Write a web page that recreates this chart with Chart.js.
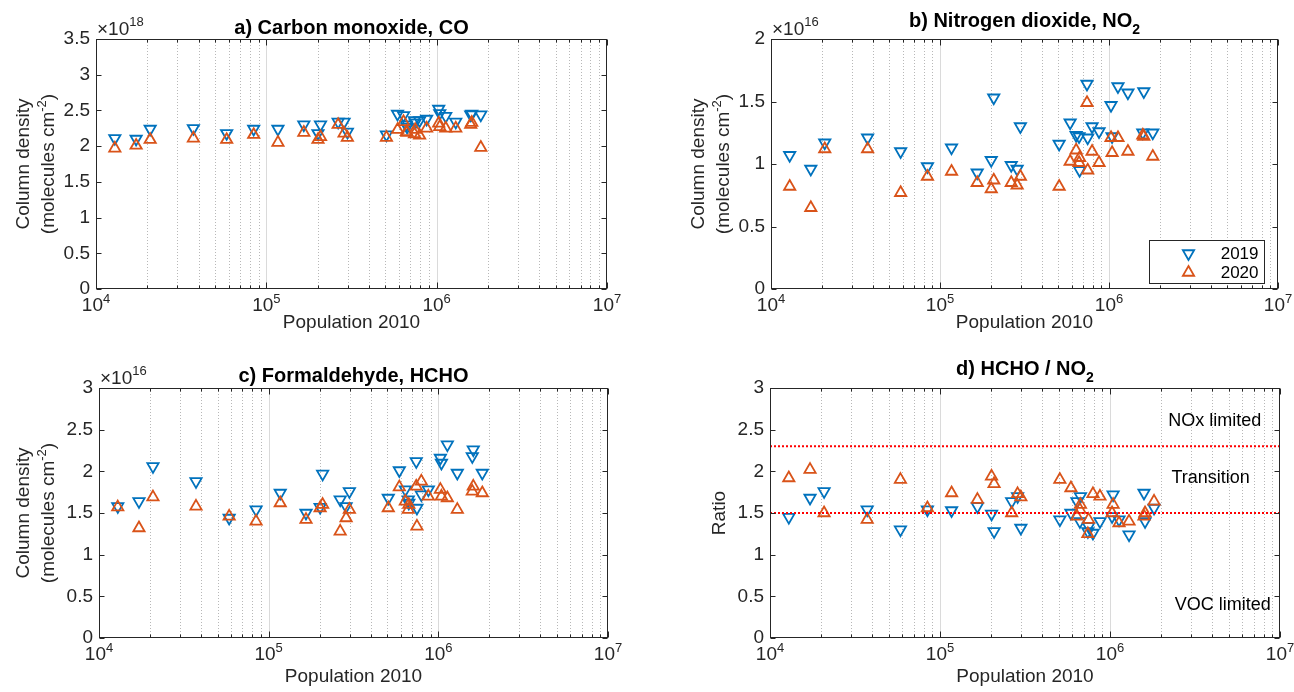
<!DOCTYPE html>
<html>
<head>
<meta charset="utf-8">
<script src="https://cdn.jsdelivr.net/npm/chart.js@4.4.1/dist/chart.umd.min.js"></script>
<style>
  body { margin: 0; background: #fff; }
  #wrap { position: relative; width: 1294px; height: 692px; }
  canvas { position: absolute; }
</style>
</head>
<body>
<div id="wrap">
  <canvas id="chartA" width="647" height="346" style="left:0;top:0"></canvas>
  <canvas id="chartB" width="647" height="346" style="left:647px;top:0"></canvas>
  <canvas id="chartC" width="647" height="346" style="left:0;top:346px"></canvas>
  <canvas id="chartD" width="647" height="346" style="left:647px;top:346px"></canvas>
</div>
<script>
// city population (2010), one entry per city
const population = [12900, 17200, 20800, 37300, 58500, 84300, 117000, 166000, 201000, 208000,
  264000, 286000, 299000, 507000, 589000, 639000, 665000, 670000, 741000, 748000,
  794000, 873000, 1028000, 1043000, 1130000, 1294000, 1585000, 1607000, 1816000];

// a) CO column density, x1e18
const co2019 = [2.11, 2.10, 2.24, 2.25, 2.18, 2.24, 2.24, 2.30, 2.18, 2.30,
  2.34, 2.34, 2.20, 2.16, 2.45, 2.43, 2.30, 2.27, 2.36, 2.33,
  2.36, 2.38, 2.52, 2.46, 2.42, 2.34, 2.44, 2.45, 2.44];
const co2020 = [1.97, 2.01, 2.09, 2.11, 2.09, 2.16, 2.05, 2.19, 2.09, 2.13,
  2.30, 2.18, 2.12, 2.12, 2.23, 2.34, 2.20, 2.19, 2.17, 2.23,
  2.15, 2.25, 2.32, 2.27, 2.25, 2.25, 2.30, 2.33, 1.98];

// b) NO2 column density, x1e16
const no2_2019 = [1.07, 0.96, 1.17, 1.21, 1.10, 0.98, 1.13, 0.93, 1.03, 1.53,
  0.99, 0.96, 1.30, 1.16, 1.33, 1.23, 1.22, 0.95, 1.64, 1.21,
  1.30, 1.26, 1.47, 1.22, 1.62, 1.57, 1.25, 1.58, 1.25];
const no2_2020 = [0.82, 0.65, 1.12, 1.12, 0.77, 0.90, 0.94, 0.85, 0.80, 0.87,
  0.85, 0.83, 0.90, 0.82, 1.02, 1.11, 1.01, 1.05, 1.49, 0.95,
  1.10, 1.01, 1.21, 1.09, 1.21, 1.10, 1.23, 1.22, 1.06];

// c) HCHO column density, x1e16
const hcho2019 = [1.58, 1.64, 2.06, 1.88, 1.44, 1.54, 1.74, 1.50, 1.57, 1.97,
  1.66, 1.58, 1.76, 1.68, 2.01, 1.78, 1.66, 1.62, 2.12, 1.56,
  1.72, 1.78, 2.16, 2.10, 2.32, 1.98, 2.18, 2.26, 1.98];
const hcho2020 = [1.57, 1.32, 1.69, 1.58, 1.46, 1.40, 1.62, 1.42, 1.56, 1.60,
  1.28, 1.44, 1.54, 1.56, 1.81, 1.64, 1.54, 1.60, 1.82, 1.34,
  1.88, 1.70, 1.78, 1.70, 1.68, 1.54, 1.76, 1.82, 1.74];

// d) HCHO / NO2 ratio
const ratio2019 = [1.45, 1.68, 1.76, 1.54, 1.30, 1.54, 1.53, 1.58, 1.49, 1.28,
  1.64, 1.70, 1.32, 1.42, 1.50, 1.64, 1.40, 1.70, 1.28, 1.34,
  1.26, 1.40, 1.46, 1.72, 1.42, 1.24, 1.74, 1.40, 1.56];
const ratio2020 = [1.92, 2.02, 1.50, 1.42, 1.90, 1.56, 1.74, 1.66, 1.94, 1.85,
  1.50, 1.73, 1.69, 1.90, 1.80, 1.46, 1.54, 1.60, 1.25, 1.42,
  1.73, 1.70, 1.50, 1.60, 1.38, 1.40, 1.46, 1.50, 1.64];

const seriesNames = ['2019', '2020'];
const xRange = [1e4, 1e7];
const xTickExponents = [4, 5, 6, 7];
const ratioLimits = [1.5, 2.3];
const regimeNames = ['NOx limited', 'Transition', 'VOC limited'];

// ----------------------------------------------------------------

const FONT = "'Liberation Sans', Arial, Helvetica, sans-serif";
const AXIS_COLOR = '#262626';
const BLUE = '#0072BD';
const ORANGE = '#D95319';

const fontOf = (p) => (p.bold ? 'bold ' : '') + p.size + 'px ' + FONT;

function richWidth(ctx, parts) {
  let w = 0;
  parts.forEach(p => { ctx.font = fontOf(p); w += ctx.measureText(p.text).width; });
  return w;
}

function drawRich(ctx, parts, x, y, align) {
  const w = richWidth(ctx, parts);
  let cx = align === 'center' ? x - w / 2 : (align === 'right' ? x - w : x);
  ctx.textAlign = 'left';
  ctx.textBaseline = 'alphabetic';
  parts.forEach(p => {
    ctx.font = fontOf(p);
    ctx.fillText(p.text, cx, y + (p.dy || 0));
    cx += ctx.measureText(p.text).width;
  });
}

function triangle(ctx, x, y, r, down, color) {
  ctx.save();
  ctx.strokeStyle = color;
  ctx.lineWidth = 1.8;
  ctx.beginPath();
  let rad = down ? Math.PI : 0;
  for (let i = 0; i < 3; i++) {
    const px = x + Math.sin(rad) * r, py = y - Math.cos(rad) * r;
    if (i === 0) ctx.moveTo(px, py); else ctx.lineTo(px, py);
    rad += 2 * Math.PI / 3;
  }
  ctx.closePath();
  ctx.stroke();
  ctx.restore();
}

const panelPlugin = {
  id: 'panel',
  beforeDatasetsDraw(chart) {
    const { ctx, chartArea: a } = chart;
    const xs = chart.scales.x;
    ctx.save();
    ctx.lineWidth = 1;
    for (let e = xTickExponents[0]; e < xTickExponents[xTickExponents.length - 1]; e++) {
      for (let m = 1; m <= 9; m++) {
        if (m === 1 && e === xTickExponents[0]) continue;
        const px = Math.round(xs.getPixelForValue(m * Math.pow(10, e))) + 0.5;
        ctx.strokeStyle = m === 1 ? '#dadada' : '#b8b8b8';
        ctx.setLineDash(m === 1 ? [] : [1, 2]);
        ctx.beginPath();
        ctx.moveTo(px, a.top);
        ctx.lineTo(px, a.bottom);
        ctx.stroke();
      }
    }
    ctx.restore();
  },
  afterDraw(chart, args, opts) {
    const { ctx, chartArea: a } = chart;
    const xs = chart.scales.x, ys = chart.scales.y;
    const L = Math.round(a.left) + 0.5, R = Math.round(a.right) - 0.5;
    const T = Math.round(a.top) + 0.5, B = Math.round(a.bottom) - 0.5;
    ctx.save();
    ctx.strokeStyle = AXIS_COLOR;
    ctx.fillStyle = AXIS_COLOR;
    ctx.lineWidth = 1;
    ctx.setLineDash([]);
    ctx.strokeRect(L, T, R - L, B - T);

    // y ticks, inside on both sides
    ys.ticks.forEach(t => {
      const py = Math.round(ys.getPixelForValue(t.value)) + 0.5;
      ctx.beginPath();
      ctx.moveTo(L, py); ctx.lineTo(L + 5, py);
      ctx.moveTo(R, py); ctx.lineTo(R - 5, py);
      ctx.stroke();
    });

    // x ticks (major and minor), inside top and bottom
    for (let e = xTickExponents[0]; e <= xTickExponents[xTickExponents.length - 1]; e++) {
      for (let m = 1; m <= 9; m++) {
        const v = m * Math.pow(10, e);
        if (v > xRange[1]) break;
        const px = Math.round(xs.getPixelForValue(v)) + 0.5;
        const len = m === 1 ? 6 : 3;
        ctx.beginPath();
        ctx.moveTo(px, B); ctx.lineTo(px, B - len);
        ctx.moveTo(px, T); ctx.lineTo(px, T + len);
        ctx.stroke();
      }
    }

    // x tick labels 10^n
    xTickExponents.forEach(e => {
      const px = xs.getPixelForValue(Math.pow(10, e));
      drawRich(ctx, [{ text: '10', size: 19 }, { text: String(e), size: 13, dy: -8 }], px, a.bottom + 22, 'center');
    });

    // x axis title
    drawRich(ctx, [{ text: 'Population 2010', size: 19 }], (a.left + a.right) / 2, a.bottom + opts.xTitleGap, 'center');

    // y axis title (rotated)
    const cy = (a.top + a.bottom) / 2;
    opts.yTitle.forEach((line, i) => {
      ctx.save();
      ctx.translate(a.left + opts.yTitleX[i], cy);
      ctx.rotate(-Math.PI / 2);
      drawRich(ctx, line, 0, 7, 'center');
      ctx.restore();
    });

    // exponent note
    if (opts.exponent) {
      drawRich(ctx, [{ text: '\u00d710', size: 19 }, { text: opts.exponent, size: 13, dy: -9 }], a.left + 1, a.top - 4, 'left');
    }

    // panel title
    ctx.fillStyle = '#000';
    drawRich(ctx, opts.title, (a.left + a.right) / 2, a.top - opts.titleGap, 'center');

    // text notes placed in data coordinates
    (opts.notes || []).forEach(n => {
      ctx.font = '18px ' + FONT;
      ctx.textAlign = 'left';
      ctx.textBaseline = 'middle';
      ctx.fillStyle = '#000';
      ctx.fillText(n.text, xs.getPixelForValue(n.x), ys.getPixelForValue(n.y));
    });

    // legend box
    if (opts.legend) {
      const w = 115, h = 43;
      const bx = Math.round(a.right - 14 - w) + 0.5, by = Math.round(a.bottom - 6 - h) + 0.5;
      ctx.fillStyle = '#fff';
      ctx.fillRect(bx, by, w, h);
      ctx.strokeStyle = AXIS_COLOR;
      ctx.strokeRect(bx, by, w, h);
      const colors = [BLUE, ORANGE];
      seriesNames.forEach((name, i) => {
        const ry = by + 13 + i * 19;
        triangle(ctx, bx + 39, ry, 6.5, i === 0, colors[i]);
        ctx.fillStyle = '#000';
        ctx.font = '17px ' + FONT;
        ctx.textAlign = 'right';
        ctx.textBaseline = 'middle';
        ctx.fillText(name, bx + w - 6, ry + 1);
      });
    }
    ctx.restore();
  }
};

const toPoints = (ys) => population.map((p, i) => ({ x: p, y: ys[i] }));

function markerSets(y2019, y2020) {
  const common = {
    pointStyle: 'triangle', pointRadius: 6.5, pointBorderWidth: 1.8,
    pointBackgroundColor: 'rgba(0,0,0,0)', backgroundColor: 'rgba(0,0,0,0)',
    showLine: false
  };
  return [
    Object.assign({ label: seriesNames[0], data: toPoints(y2019), pointRotation: 180,
      borderColor: BLUE, pointBorderColor: BLUE, order: 2 }, common),
    Object.assign({ label: seriesNames[1], data: toPoints(y2020), pointRotation: 0,
      borderColor: ORANGE, pointBorderColor: ORANGE, order: 1 }, common)
  ];
}

function limitSets() {
  return ratioLimits.map(v => ({
    label: 'limit ' + v,
    data: [{ x: xRange[0], y: v }, { x: xRange[1], y: v }],
    showLine: true, borderColor: '#ff0000', borderWidth: 2, borderDash: [2, 2],
    pointRadius: 0, order: 0
  }));
}

function makeChart(id, area, yMax, datasets, panelOpts) {
  const canvas = document.getElementById(id);
  const W = canvas.width, H = canvas.height;
  return new Chart(canvas.getContext('2d'), {
    type: 'scatter',
    data: { datasets: datasets },
    plugins: [panelPlugin],
    options: {
      responsive: false,
      animation: false,
      events: [],
      layout: { padding: { left: 0, top: area.top, right: W - area.right, bottom: H - area.bottom } },
      plugins: {
        legend: { display: false },
        tooltip: { enabled: false },
        panel: panelOpts
      },
      scales: {
        x: { type: 'logarithmic', min: xRange[0], max: xRange[1], display: false },
        y: {
          min: 0, max: yMax,
          grid: { display: false, drawTicks: false },
          border: { display: false },
          ticks: {
            stepSize: 0.5, padding: 6, color: AXIS_COLOR,
            font: { family: FONT, size: 19 },
            callback: (v) => String(v)
          },
          afterFit: (scale) => { scale.width = area.left; }
        }
      }
    }
  });
}

const densityTitle = [
  [{ text: 'Column density', size: 19 }],
  [{ text: '(molecules cm', size: 19 }, { text: '-2', size: 13, dy: -8 }, { text: ')', size: 19 }]
];

makeChart('chartA', { left: 96, top: 39, right: 607, bottom: 289 }, 3.5, markerSets(co2019, co2020), {
  title: [{ text: 'a) Carbon monoxide, CO', size: 20, bold: true }], titleGap: 5,
  yTitle: densityTitle, yTitleX: [-74, -49], exponent: '18', xTitleGap: 39
});

makeChart('chartB', { left: 124, top: 39, right: 631, bottom: 289 }, 2, markerSets(no2_2019, no2_2020), {
  title: [{ text: 'b) Nitrogen dioxide, NO', size: 20, bold: true }, { text: '2', size: 14, bold: true, dy: 7 }], titleGap: 12,
  yTitle: densityTitle, yTitleX: [-74, -49], exponent: '16', xTitleGap: 39, legend: true
});

makeChart('chartC', { left: 99, top: 42, right: 608, bottom: 292 }, 3, markerSets(hcho2019, hcho2020), {
  title: [{ text: 'c) Formaldehyde, HCHO', size: 20, bold: true }], titleGap: 6,
  yTitle: densityTitle, yTitleX: [-77, -52], exponent: '16', xTitleGap: 44
});

makeChart('chartD', { left: 123, top: 42, right: 633, bottom: 292 }, 3, limitSets().concat(markerSets(ratio2019, ratio2020)), {
  title: [{ text: 'd) HCHO / NO', size: 20, bold: true }, { text: '2', size: 14, bold: true, dy: 7 }], titleGap: 13,
  yTitle: [[{ text: 'Ratio', size: 19 }]], yTitleX: [-52], xTitleGap: 44,
  notes: [
    { text: regimeNames[0], x: 2.2e6, y: 2.6 },
    { text: regimeNames[1], x: 2.3e6, y: 1.92 },
    { text: regimeNames[2], x: 2.4e6, y: 0.4 }
  ]
});
</script>
</body>
</html>
